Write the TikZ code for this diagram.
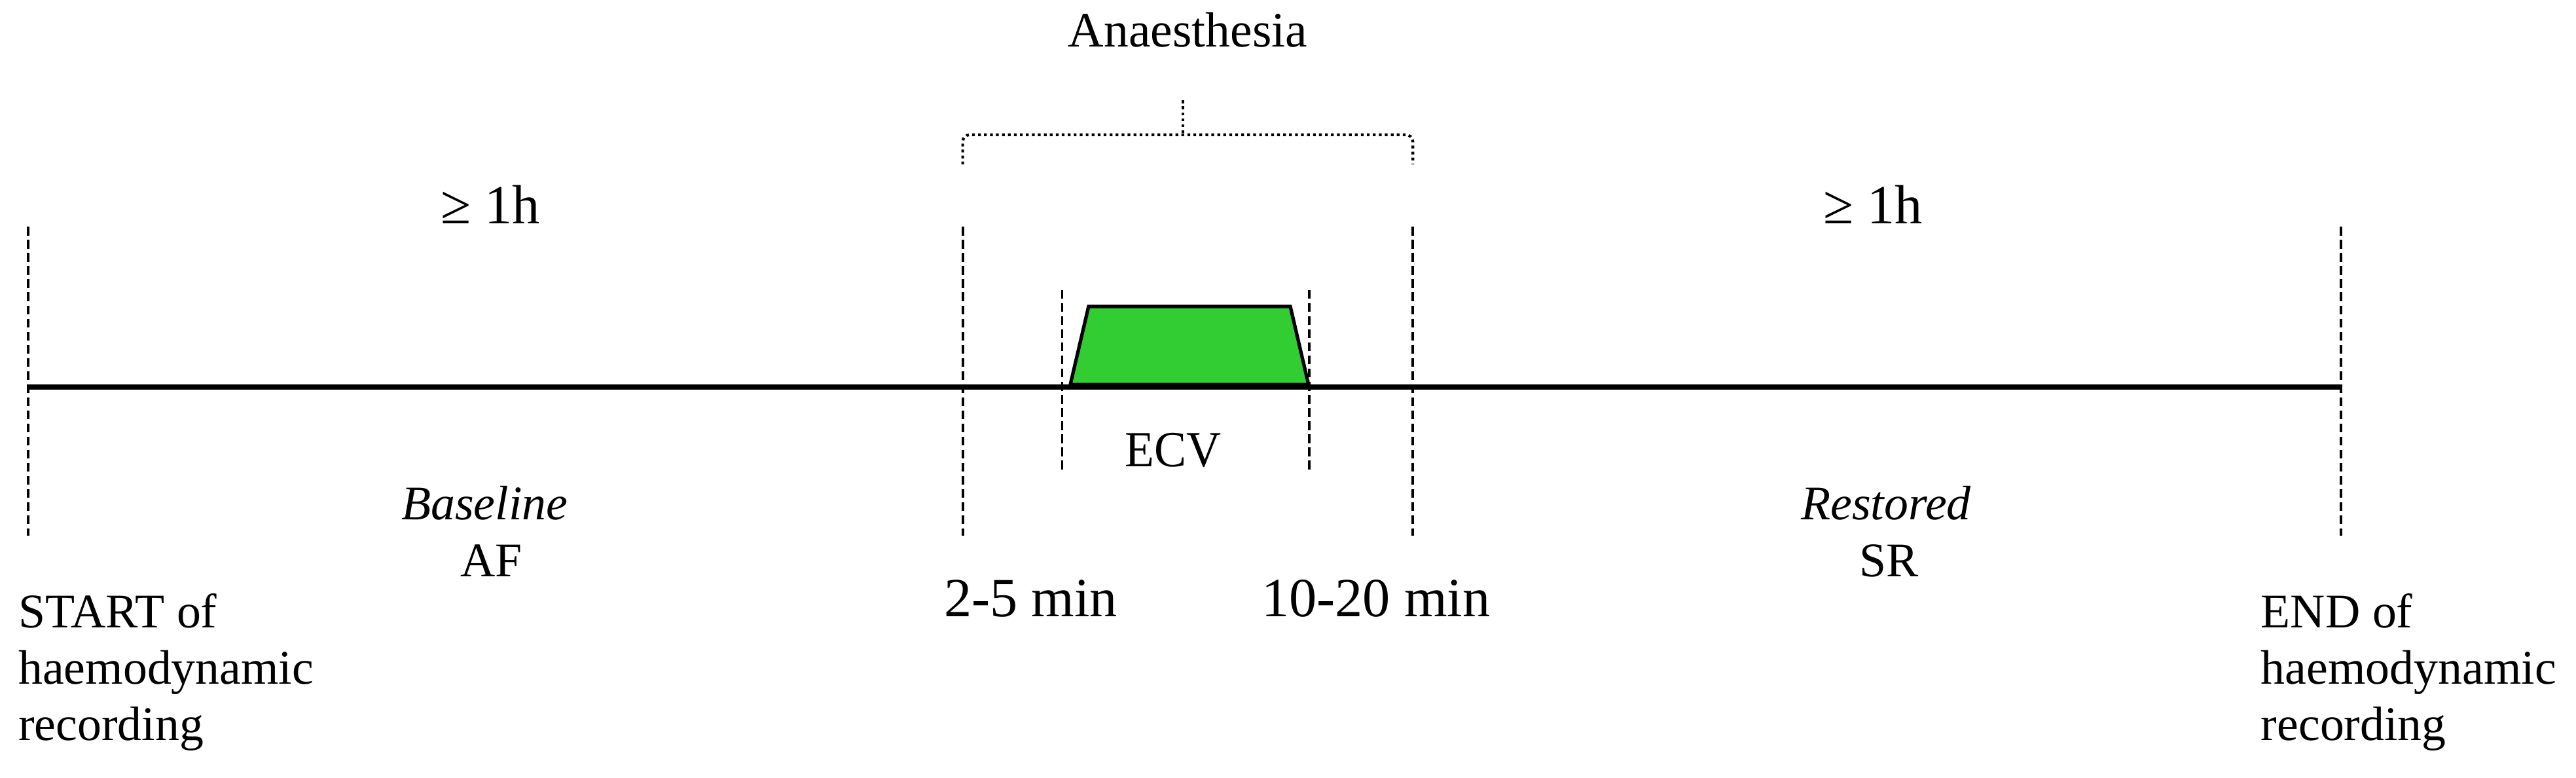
\documentclass[tikz,border=0pt]{standalone}
\usepackage{fontspec}
\setmainfont{Liberation Serif}
\begin{document}
\begin{tikzpicture}[x=0.25096mm,y=-0.25096mm,
  timeline/.style={line width=2pt},
  guide/.style={line width=1.1pt, dash pattern=on 3.8pt off 1.9pt},
  bracket/.style={line width=1.2pt, dash pattern=on 1.2pt off 1.4pt, rounded corners=3pt},
  txt/.style={inner sep=0pt, anchor=base, font=\fontsize{24}{28}\selectfont},
  small/.style={inner sep=0pt, anchor=base, font=\fontsize{21}{24}\selectfont},
  multi/.style={inner sep=0pt, anchor=north west, align=left, font=\fontsize{21}{24.5}\selectfont}]
\useasboundingbox (0,0) rectangle (1568,473);
% main timeline
\coordinate (s) at (17,235.5);
\coordinate (e) at (1425,235.5);
\draw[timeline] (s) -- (e);
% long dashed guides
\foreach \n/\x in {gs/17, ga/586, gb/860, ge/1425}{
  \coordinate (\n t) at (\x,138);
  \coordinate (\n b) at (\x,326);
  \draw[guide] (\n t) -- (\n b);
}
% short dashed guides
\foreach \n/\x in {ca/646.5, cb/797}{
  \coordinate (\n t) at (\x,176.5);
  \coordinate (\n b) at (\x,286);
  \draw[guide] (\n t) -- (\n b);
}
% ECV trapezoid
\coordinate (t1) at (651.5,234);
\coordinate (t2) at (662.6,186.5);
\coordinate (t3) at (785.4,186.5);
\coordinate (t4) at (796.5,234);
\draw[line width=1.5pt, fill={rgb,255:red,50;green,205;blue,50}, line join=miter] (t1) -- (t2) -- (t3) -- (t4) -- cycle;
% anaesthesia bracket
\coordinate (bl) at (586,100);
\coordinate (br) at (860,100);
\coordinate (bm) at (720,81);
\coordinate (bt) at (720,61);
\draw[bracket] (bl) -- (586,82) -- (860,82) -- (br);
\draw[bracket] (bm) -- (bt);
% texts
\node[small, font=\fontsize{21.5}{26}\selectfont] (anae) at (723,28.5) {Anaesthesia};
\node[txt] (h1) at (298.5,136) {≥ 1h};
\node[txt] (h2) at (1140,136) {≥ 1h};
\node[small, font=\fontsize{21}{24}\selectfont\itshape] (base) at (295,316) {Baseline};
\node[small] (af) at (299,351) {AF};
\node[small, font=\fontsize{21}{24}\selectfont\itshape] (rest) at (1148,316) {Restored};
\node[small] (sr) at (1150,351) {SR};
\node[txt, font=\fontsize{22}{26}\selectfont, xscale=0.95] (ecv) at (714,284) {ECV};
\node[txt] (t25) at (627.5,375) {2-5 min};
\node[txt] (t1020) at (837.5,375) {10-20 min};
\node[multi] (start) at (11,361) {START of\\haemodynamic\\recording};
\node[multi] (end) at (1376,361) {END of\\haemodynamic\\recording};
\end{tikzpicture}
\end{document}
